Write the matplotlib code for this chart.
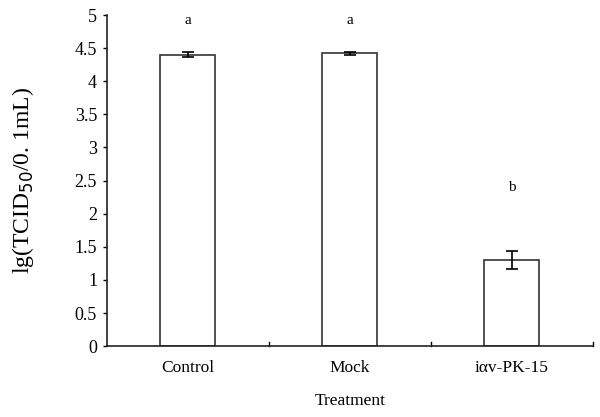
import numpy as np
import matplotlib
matplotlib.use("Agg")
import matplotlib.pyplot as plt

categories = ["Control", "Mock", "i\u03b1v-PK-15"]
means = [4.40, 4.42, 1.30]
errors = [0.04, 0.025, 0.14]
letters = ["a", "a", "b"]
letter_y = [4.92, 4.92, 2.40]
yticks = [0, 0.5, 1, 1.5, 2, 2.5, 3, 3.5, 4, 4.5, 5]
ytick_labels = ["0", "0.5", "1", "1.5", "2", "2.5", "3", "3.5", "4", "4.5", "5"]

plt.rcParams['font.family'] = ['Liberation Serif', 'DejaVu Serif']

fig = plt.figure(figsize=(6, 4.17), dpi=100)
ax = fig.add_axes([0.178, 0.170, 0.81, 0.794])

x = np.arange(len(categories))
ax.bar(x, means, width=0.34, color="white", edgecolor="#333333", linewidth=1.2)
ax.errorbar(x, means, yerr=errors, fmt="none", ecolor="black",
            elinewidth=1.2, capsize=4, capthick=1.2)

for xi, lab, ly in zip(x, letters, letter_y):
    ax.text(xi, ly, lab, ha="center", va="center", fontsize=11)

ax.set_xlim(-0.5, 2.5)
ax.set_ylim(0, 5)
ax.set_yticks(yticks)
ax.set_yticklabels(ytick_labels, fontsize=13)
ax.set_xticks(x)
ax.set_xticklabels(categories, fontsize=12.5)
ax.tick_params(axis="x", length=0, pad=10)
ax.tick_params(axis="y", direction="out", length=3, width=1, pad=4)

# category boundary ticks pointing up
for b in [0.5, 1.5, 2.5]:
    ax.plot([b, b], [0, 0.06], color="black", linewidth=1, clip_on=False)

for s in ["top", "right"]:
    ax.spines[s].set_visible(False)
for s in ["left", "bottom"]:
    ax.spines[s].set_linewidth(1.2)
    ax.spines[s].set_color("#222222")

ax.set_xlabel("Treatment", fontsize=12.5, labelpad=12)
ax.set_ylabel("lg(TCID$_{50}$/0. 1mL)", fontsize=17)
ax.yaxis.set_label_coords(-0.146, 0.5)

fig.savefig("out.png", dpi=100)
